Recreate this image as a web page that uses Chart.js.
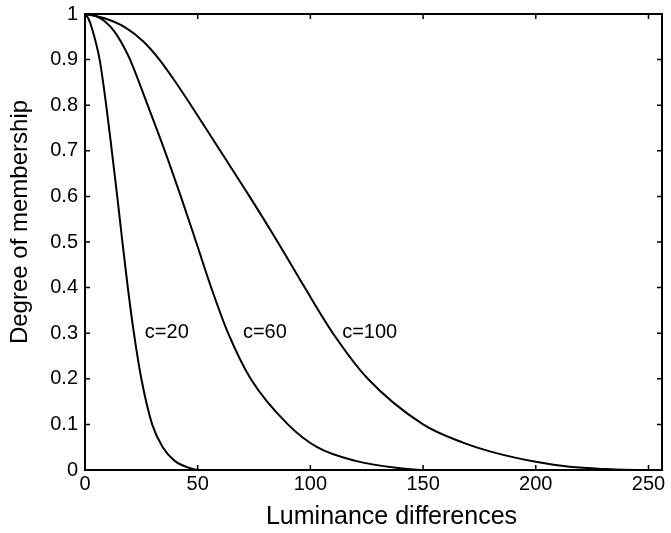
<!DOCTYPE html>
<html>
<head>
<meta charset="utf-8">
<script src="https://cdn.jsdelivr.net/npm/chart.js@4/dist/chart.umd.min.js"></script>
<style>
  html, body { margin: 0; padding: 0; background: #fff; }
  #wrap { width: 671px; height: 533px; }
</style>
</head>
<body>
<div id="wrap"><canvas id="chart" width="671" height="533"></canvas></div>
<script>
// values
const xC20 = [0, 1.5, 3.0, 6.5, 9.4, 11.9, 14.3, 16.6, 19.0, 21.7, 25.0, 29.8, 34.5, 39.8, 46.0, 51, 256];
const yC20 = [1, 0.99, 0.97, 0.9, 0.8, 0.7, 0.6, 0.5, 0.4, 0.3, 0.2, 0.1, 0.05, 0.02, 0.005, 0, 0];

const xC60 = [0, 5, 9, 13, 17, 20, 27.8, 35.4, 42.5, 49.3, 56, 63.5, 73.5, 90, 103, 120, 138, 152, 256];
const yC60 = [1, 0.995, 0.983, 0.962, 0.93, 0.9, 0.8, 0.7, 0.6, 0.5, 0.4, 0.3, 0.2, 0.1, 0.05, 0.02, 0.005, 0, 0];

const xC100 = [0, 9, 18, 26, 33, 40, 47, 60, 73, 85.5, 97.5, 110, 125.5, 150, 167.7, 182.5, 200, 215, 231, 245, 256];
const yC100 = [1, 0.99, 0.97, 0.939, 0.9, 0.852, 0.8, 0.7, 0.6, 0.5, 0.4, 0.3, 0.2, 0.1, 0.06, 0.037, 0.018, 0.007, 0.002, 0, 0];

const curveNames = ['c=20', 'c=60', 'c=100'];
const nameX = [36.3, 79.8, 126.3];
const nameY = [0.29, 0.29, 0.29];

const xTicks = [0, 50, 100, 150, 200, 250];
const xTickLabels = ['0', '50', '100', '150', '200', '250'];
const yTicks = [0, 0.1, 0.2, 0.3, 0.4, 0.5, 0.6, 0.7, 0.8, 0.9, 1];
const yTickLabels = ['0', '0.1', '0.2', '0.3', '0.4', '0.5', '0.6', '0.7', '0.8', '0.9', '1'];

const xTitle = 'Luminance differences';
const yTitle = 'Degree of membership';

const FONT = 'Liberation Sans, Arial, Helvetica, sans-serif';

function toPoints(xs, ys) {
  return xs.map((x, i) => ({ x: x, y: ys[i] }));
}

function curve(xs, ys) {
  return {
    data: toPoints(xs, ys),
    showLine: true,
    borderColor: '#000',
    borderWidth: 2,
    pointRadius: 0,
    cubicInterpolationMode: 'monotone',
    fill: false
  };
}

// frame, inward ticks on all four sides, axis titles and the curve names
const framePlugin = {
  id: 'frame',
  afterDraw(chart) {
    const ctx = chart.ctx;
    const area = chart.chartArea;
    const xs = chart.scales.x;
    const ys = chart.scales.y;
    const len = 5;
    ctx.save();
    ctx.strokeStyle = '#000';
    ctx.lineWidth = 2;
    ctx.strokeRect(area.left, area.top, area.right - area.left, area.bottom - area.top);
    ctx.lineWidth = 1.5;
    ctx.beginPath();
    xTicks.forEach(v => {
      const px = xs.getPixelForValue(v);
      ctx.moveTo(px, area.bottom); ctx.lineTo(px, area.bottom - len);
      ctx.moveTo(px, area.top); ctx.lineTo(px, area.top + len);
    });
    yTicks.forEach(v => {
      const py = ys.getPixelForValue(v);
      ctx.moveTo(area.left, py); ctx.lineTo(area.left + len, py);
      ctx.moveTo(area.right, py); ctx.lineTo(area.right - len, py);
    });
    ctx.stroke();

    ctx.fillStyle = '#000';
    ctx.textAlign = 'center';

    ctx.font = '20px ' + FONT;
    ctx.textBaseline = 'alphabetic';
    curveNames.forEach((name, i) => {
      ctx.fillText(name, xs.getPixelForValue(nameX[i]), ys.getPixelForValue(nameY[i]));
    });

    ctx.textBaseline = 'middle';
    ctx.font = '25px ' + FONT;
    ctx.fillText(xTitle, (area.left + area.right) / 2 + 18, 517);

    ctx.font = '24px ' + FONT;
    ctx.translate(20, (area.top + area.bottom) / 2 - 20);
    ctx.rotate(-Math.PI / 2);
    ctx.fillText(yTitle, 0, 0);
    ctx.restore();
  }
};

new Chart(document.getElementById('chart').getContext('2d'), {
  type: 'scatter',
  data: {
    datasets: [curve(xC20, yC20), curve(xC60, yC60), curve(xC100, yC100)]
  },
  options: {
    responsive: false,
    animation: false,
    layout: { padding: { top: 14, right: 9, left: 0, bottom: 0 } },
    plugins: {
      legend: { display: false },
      tooltip: { enabled: false }
    },
    scales: {
      x: {
        type: 'linear',
        min: 0,
        max: 256,
        grid: { display: false, drawTicks: false },
        border: { display: false },
        afterBuildTicks: axis => { axis.ticks = xTicks.map(v => ({ value: v })); },
        afterFit: axis => {
          axis.height = 63;
          axis.paddingLeft = 0;
          axis.paddingRight = 0;
        },
        ticks: {
          padding: 2,
          maxRotation: 0,
          color: '#000',
          font: { family: FONT, size: 20 },
          callback: (v, i) => xTickLabels[i]
        }
      },
      y: {
        type: 'linear',
        min: 0,
        max: 1,
        grid: { display: false, drawTicks: false },
        border: { display: false },
        afterBuildTicks: axis => { axis.ticks = yTicks.map(v => ({ value: v })); },
        afterFit: axis => {
          axis.width = 85;
          axis.paddingTop = 0;
          axis.paddingBottom = 0;
        },
        ticks: {
          padding: 7,
          color: '#000',
          font: { family: FONT, size: 20 },
          callback: (v, i) => yTickLabels[i]
        }
      }
    }
  },
  plugins: [framePlugin]
});
</script>
</body>
</html>
